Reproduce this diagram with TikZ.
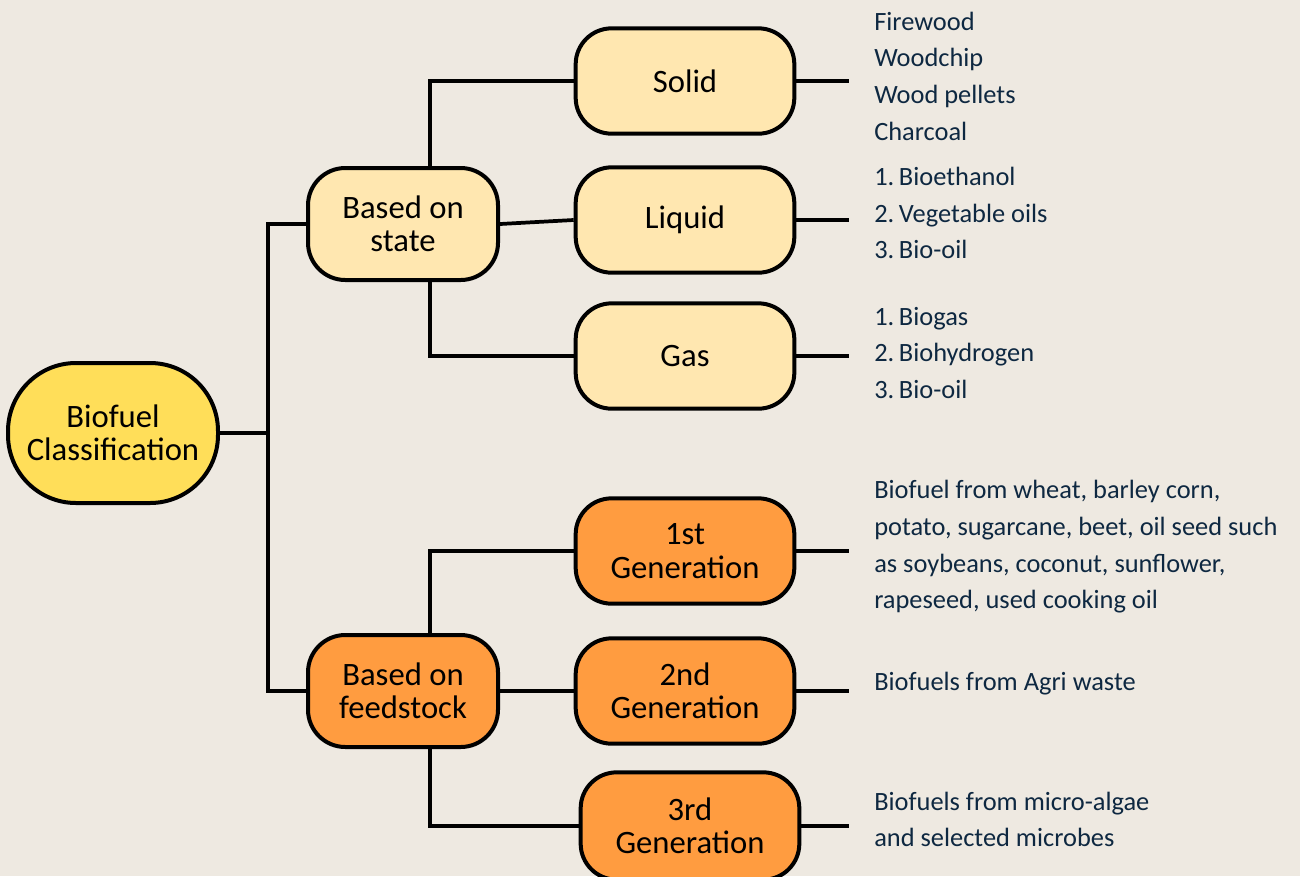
\documentclass[tikz,border=0pt]{standalone}
\usepackage{fontspec}
\setmainfont{Carlito}
\definecolor{bgc}{RGB}{238,233,225}
\definecolor{rootc}{RGB}{255,222,89}
\definecolor{lightc}{RGB}{255,231,176}
\definecolor{orangec}{RGB}{255,156,64}
\definecolor{txtc}{RGB}{14,40,65}
\begin{document}
\begin{tikzpicture}[x=0.75pt,y=-0.75pt,
  box/.style={draw=black,line width=3pt,align=center,inner sep=0pt,
    font=\fontsize{24.5}{25}\selectfont},
  rootbox/.style={box,fill=rootc,minimum width=157.5pt,minimum height=105pt,rounded corners=51pt},
  midbox/.style={box,minimum width=142.5pt,minimum height=84pt,rounded corners=28pt},
  leafbox/.style={box,minimum width=164pt,minimum height=79pt,rounded corners=27pt},
  conn/.style={line width=2.8pt,black},
  item/.style={anchor=base west,inner sep=0pt,text=txtc,font=\fontsize{19.8}{24}\selectfont}]
\fill[bgc] (0,0) rectangle (1300,876);
\useasboundingbox (0,0) rectangle (1300,876);

% nodes
\node[rootbox] (root) at (113,433) {Biofuel\\Classification};
\node[midbox,fill=lightc] (state) at (403,224) {Based on\\state};
\node[midbox,fill=orangec] (feed) at (403,691) {Based on\\feedstock};
\node[leafbox,fill=lightc] (solid) at (685,81) {Solid};
\node[leafbox,fill=lightc] (liquid) at (685,220) {Liquid};
\node[leafbox,fill=lightc] (gas) at (685,356) {Gas};
\node[leafbox,fill=orangec] (g1) at (685,551) {1st\\Generation};
\node[leafbox,fill=orangec] (g2) at (685,691) {2nd\\Generation};
\node[leafbox,fill=orangec,minimum height=80.5pt] (g3) at (690,826) {3rd\\Generation};

% helper coordinates
\coordinate (tk) at (268,433);
\coordinate (sx) at (430,0);

% connectors
\draw[conn] (root.east) -- (tk);
\draw[conn] (state.west) -| (tk) |- (feed.west);
\draw[conn] (state.north -| sx) |- (solid.west);
\draw[conn] (state.east) -- (liquid.west);
\draw[conn] (state.south -| sx) |- (gas.west);
\draw[conn] (feed.north -| sx) |- (g1.west);
\draw[conn] (feed.east) -- (g2.west);
\draw[conn] (feed.south -| sx) |- (g3.west);
\draw[conn] (solid.east) -- ++(53,0);
\draw[conn] (liquid.east) -- ++(53,0);
\draw[conn] (gas.east) -- ++(53,0);
\draw[conn] (g1.east) -- ++(53,0);
\draw[conn] (g2.east) -- ++(53,0);
\draw[conn] (g3.east) -- ++(48,0);

% lists
\node[item] (a1) at (874,30) {Firewood};
\node[item] (a2) at (874,66.5) {Woodchip};
\node[item] (a3) at (874,103) {Wood pellets};
\node[item] (a4) at (874,140) {Charcoal};
\node[item] (b1) at (874,185) {1.\hspace{3.5pt}Bioethanol};
\node[item] (b2) at (874,222) {2.\hspace{3.5pt}Vegetable oils};
\node[item] (b3) at (874,258) {3.\hspace{3.5pt}Bio-oil};
\node[item] (c1) at (874,325) {1.\hspace{3.5pt}Biogas};
\node[item] (c2) at (874,361) {2.\hspace{3.5pt}Biohydrogen};
\node[item] (c3) at (874,398) {3.\hspace{3.5pt}Bio-oil};
\node[item] (d1) at (874,498) {Biofuel from wheat, barley corn,};
\node[item] (d2) at (874,535) {potato, sugarcane, beet, oil seed such};
\node[item] (d3) at (874,572) {as soybeans, coconut, sunflower,};
\node[item] (d4) at (874,608) {rapeseed, used cooking oil};
\node[item] (e1) at (874,690) {Biofuels from Agri waste};
\node[item] (f1) at (874,810) {Biofuels from micro-algae};
\node[item] (f2) at (874,846) {and selected microbes};
\end{tikzpicture}
\end{document}
